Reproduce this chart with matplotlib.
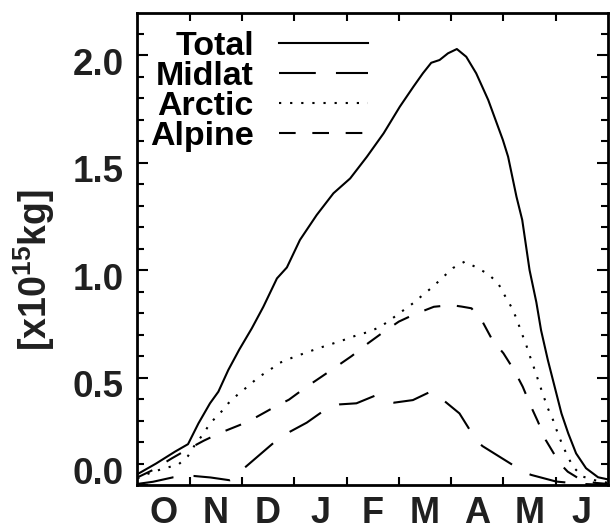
import numpy as np
import matplotlib
matplotlib.use("Agg")
import matplotlib.pyplot as plt
from matplotlib.transforms import ScaledTranslation

plt.rcParams['font.family'] = ['Liberation Sans', 'DejaVu Sans']
plt.rcParams['font.weight'] = 'bold'
plt.rcParams['mathtext.fontset'] = 'custom'
plt.rcParams['mathtext.rm'] = 'Liberation Sans'
plt.rcParams['mathtext.bf'] = 'Liberation Sans:bold'
plt.rcParams['lines.scale_dashes'] = False

# ---- data (x in months since 1 October) ----
months = ['O', 'N', 'D', 'J', 'F', 'M', 'A', 'M', 'J']

total_x = [0.0, 0.36, 0.72, 0.97, 1.17, 1.39, 1.55, 1.74, 1.95, 2.19, 2.41, 2.67, 2.86,
           3.11, 3.43, 3.75, 4.07, 4.39, 4.71, 5.02, 5.28, 5.46, 5.62, 5.78, 5.94, 6.11,
           6.29, 6.48, 6.71, 6.99, 7.09, 7.25, 7.36, 7.50, 7.63, 7.72, 7.85, 7.98, 8.11,
           8.24, 8.39, 8.58, 8.81, 9.0]
total_y = [0.05, 0.10, 0.155, 0.19, 0.287, 0.38, 0.434, 0.535, 0.63, 0.729, 0.829, 0.961,
           1.012, 1.14, 1.256, 1.357, 1.426, 1.527, 1.636, 1.76, 1.853, 1.915, 1.964, 1.977,
           2.008, 2.028, 1.992, 1.915, 1.791, 1.605, 1.527, 1.341, 1.233, 1.0, 0.85, 0.72,
           0.581, 0.457, 0.333, 0.24, 0.147, 0.078, 0.036, 0.026]

midlat_x = [0.0, 0.3, 0.69, 0.9, 1.08, 1.4, 1.77, 1.85, 2.06, 2.61, 2.92, 3.24, 3.52, 3.7,
            3.87, 4.19, 4.54, 4.72, 4.91, 5.27, 5.58, 5.68, 5.90, 6.16, 6.35, 6.47, 6.60,
            6.87, 7.18, 7.35, 7.53, 8.01, 8.5, 9.0]
midlat_y = [0.005, 0.015, 0.036, 0.042, 0.042, 0.035, 0.022, 0.03, 0.082, 0.197, 0.248,
            0.29, 0.338, 0.365, 0.375, 0.38, 0.415, 0.40, 0.383, 0.395, 0.431, 0.43, 0.385,
            0.333, 0.259, 0.21, 0.181, 0.14, 0.093, 0.065, 0.047, 0.016, 0.005, 0.0]

arctic_x = [0.0, 0.28, 0.53, 0.79, 0.97, 1.1, 1.27, 1.39, 1.58, 1.74, 1.93, 2.12, 2.31,
            2.53, 2.73, 2.98, 3.22, 3.46, 3.69, 3.94, 4.18, 4.43, 4.65, 4.86, 5.05, 5.27,
            5.46, 5.65, 5.85, 6.04, 6.26, 6.47, 6.71, 6.90, 7.02, 7.15, 7.25, 7.34, 7.43,
            7.51, 7.60, 7.68, 7.76, 7.85, 7.95, 8.04, 8.13, 8.23, 8.34, 8.52, 8.78, 9.0]
arctic_y = [0.03, 0.06, 0.078, 0.096, 0.135, 0.186, 0.24, 0.287, 0.333, 0.38, 0.423, 0.46,
            0.50, 0.535, 0.569, 0.594, 0.615, 0.636, 0.654, 0.674, 0.695, 0.713, 0.736,
            0.772, 0.806, 0.845, 0.884, 0.922, 0.968, 1.010, 1.039, 1.014, 0.981, 0.938,
            0.884, 0.829, 0.775, 0.713, 0.656, 0.597, 0.535, 0.476, 0.419, 0.357, 0.302,
            0.24, 0.186, 0.132, 0.082, 0.039, 0.02, 0.01]

alpine_x = [0.0, 0.3, 0.66, 0.94, 1.27, 1.59, 1.96, 2.27, 2.61, 2.90, 3.22, 3.5, 3.82, 4.10,
            4.41, 4.67, 5.0, 5.3, 5.67, 6.0, 6.2, 6.39, 6.6, 6.79, 7.0, 7.21, 7.37, 7.53,
            7.66, 7.81, 7.98, 8.1, 8.23, 8.49, 8.75, 9.0]
alpine_y = [0.035, 0.07, 0.124, 0.163, 0.206, 0.243, 0.279, 0.315, 0.361, 0.397, 0.454,
            0.50, 0.553, 0.60, 0.659, 0.705, 0.76, 0.794, 0.829, 0.837, 0.83, 0.822, 0.76,
            0.674, 0.613, 0.532, 0.457, 0.364, 0.295, 0.209, 0.14, 0.095, 0.062, 0.023,
            0.01, 0.005]

series_labels = ['Total', 'Midlat', 'Arctic', 'Alpine']

# ---- figure ----
fig = plt.figure(figsize=(6.10, 5.31), dpi=100)
ax = fig.add_axes([137.3 / 610, 1 - 485 / 531, (608 - 137.3) / 610, (485 - 12.7) / 531])

lw = 1.5
ax.plot(total_x, total_y, color='black', lw=lw, linestyle='-', label=series_labels[0])
ax.plot(midlat_x, midlat_y, color='black', lw=lw, linestyle=(0, (26.5, 14.5)), label=series_labels[1])
ax.plot(arctic_x, arctic_y, color='black', lw=lw, linestyle=(0, (1.6, 6.4)), label=series_labels[2])
ax.plot(alpine_x, alpine_y, color='black', lw=lw, linestyle=(0, (12.0, 12.0)), label=series_labels[3])

ax.set_xlim(0, 9)
ax.set_ylim(0, 2.197)

ax.set_xticks(np.arange(1, 9))
ax.set_xticklabels([])
ax.set_xticks(np.arange(0.5, 9, 1.0), minor=True)
ax.set_xticklabels(months, minor=True, fontsize=26, fontweight='bold', color='#202020')
ax.tick_params(axis='x', which='major', direction='in', length=6, width=1.5, top=True, bottom=True)
ax.tick_params(axis='x', which='minor', length=0, pad=8)

ax.set_yticks([0.0, 0.5, 1.0, 1.5, 2.0])
ax.set_yticklabels(['0.0', '0.5', '1.0', '1.5', '2.0'], fontsize=26.5, fontweight='bold', color='#202020')
ax.set_yticks(np.arange(0, 2.2, 0.1), minor=True)
ax.tick_params(axis='y', which='major', direction='in', length=8, width=1.5, left=True, right=True, pad=10)
ax.tick_params(axis='y', which='minor', direction='in', length=5, width=1.5, left=True, right=True)

for s in ax.spines.values():
    s.set_linewidth(2.0)

# IDL-like label offsets
labs = ax.get_yticklabels()
for lab in labs:
    txt = lab.get_text()
    dy = 14 if txt == '0.0' else -6
    lab.set_transform(lab.get_transform() + ScaledTranslation(0, dy / 100, fig.dpi_scale_trans))

ax.set_ylabel(r'[x10$^{\mathregular{15}}$kg]', fontsize=27, fontweight='bold', color='#202020')
ax.yaxis.set_label_coords((57 - 137.3) / 470.7, (485 - 270) / 472.3)

leg = ax.legend(loc='upper left', bbox_to_anchor=((150 - 137.3) / 470.7, (485 - 31) / 472.3),
                markerfirst=False, frameon=False, fontsize=24.5, handlelength=2.6,
                handletextpad=0.75, labelspacing=-0.03, borderpad=0, borderaxespad=0)
for t in leg.get_texts():
    t.set_fontweight('bold')

fig.savefig('out.png', dpi=100)
